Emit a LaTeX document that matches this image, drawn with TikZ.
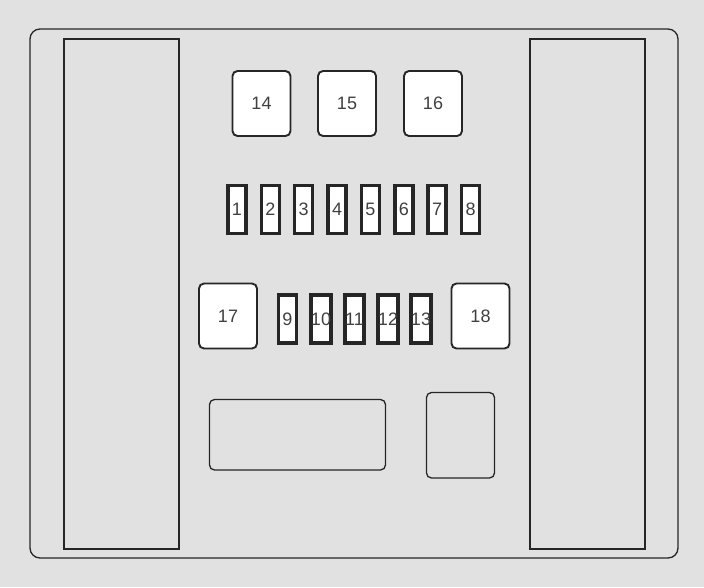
\documentclass[tikz,border=0pt]{standalone}
\usepackage{fontspec}
\setmainfont{Liberation Sans}
\definecolor{panelgrey}{HTML}{E1E1E1}
\definecolor{edgegrey}{HTML}{262626}
\begin{document}
\begin{tikzpicture}[x=1pt,y=-1pt,
        relay/.style={draw=edgegrey,line width=1.9pt,fill=white,rounded corners=5pt,
            minimum width=58pt,minimum height=65pt,inner sep=0pt,font=\fontsize{18}{18}\selectfont,text=black!75},
        fuse/.style={draw=edgegrey,line width=3.4pt,fill=white,
            minimum width=18pt,minimum height=48pt,inner sep=0pt,font=\fontsize{18}{18}\selectfont,text=black!75}]
        \useasboundingbox[fill=panelgrey] (0,0) rectangle (704,587);

        \coordinate (A) at (30,29);
        \coordinate (B) at (678,558);

        %outer frame and the two side blocks
        \draw[edgegrey,line width=1.3pt,rounded corners=10pt] (A) rectangle (B);
        \draw[edgegrey,line width=2pt] (64,39) rectangle (179,549);
        \draw[edgegrey,line width=2pt] (530,39) rectangle (645,549);

        %top relays
        \node[relay] (r14) at (261.5,103.5) {14};
        \node[relay] (r15) at (347,103.5) {\raisebox{1pt}{15}};
        \node[relay] (r16) at (433,103.5) {16};

        %first fuse row
        \node[fuse] (f1) at (237,209.5) {1};
        \node[fuse] (f2) at (270.4,209.5) {2};
        \node[fuse] (f3) at (303.7,209.5) {3};
        \node[fuse] (f4) at (337.1,209.5) {4};
        \node[fuse] (f5) at (370.4,209.5) {5};
        \node[fuse] (f6) at (403.8,209.5) {6};
        \node[fuse] (f7) at (437.1,209.5) {7};
        \node[fuse] (f8) at (470.5,209.5) {8};

        %second row
        \node[relay] (r17) at (228,316) {17};
        \node[relay] (r18) at (480.5,316) {18};

        \node[fuse] (f9) at (287.5,319) {9};
        \node[fuse] (f10) at (321,319) {10};
        \node[fuse] (f11) at (354.5,319) {11};
        \node[fuse] (f12) at (388,319) {12};
        \node[fuse] (f13) at (421,319) {13};

        %empty blocks at the bottom
        \draw[edgegrey,line width=1.3pt,rounded corners=5pt] (209.5,399.5) rectangle (385.5,470);
        \draw[edgegrey,line width=1.3pt,rounded corners=5pt] (426.5,392.5) rectangle (494.5,478);
\end{tikzpicture}
\end{document}
